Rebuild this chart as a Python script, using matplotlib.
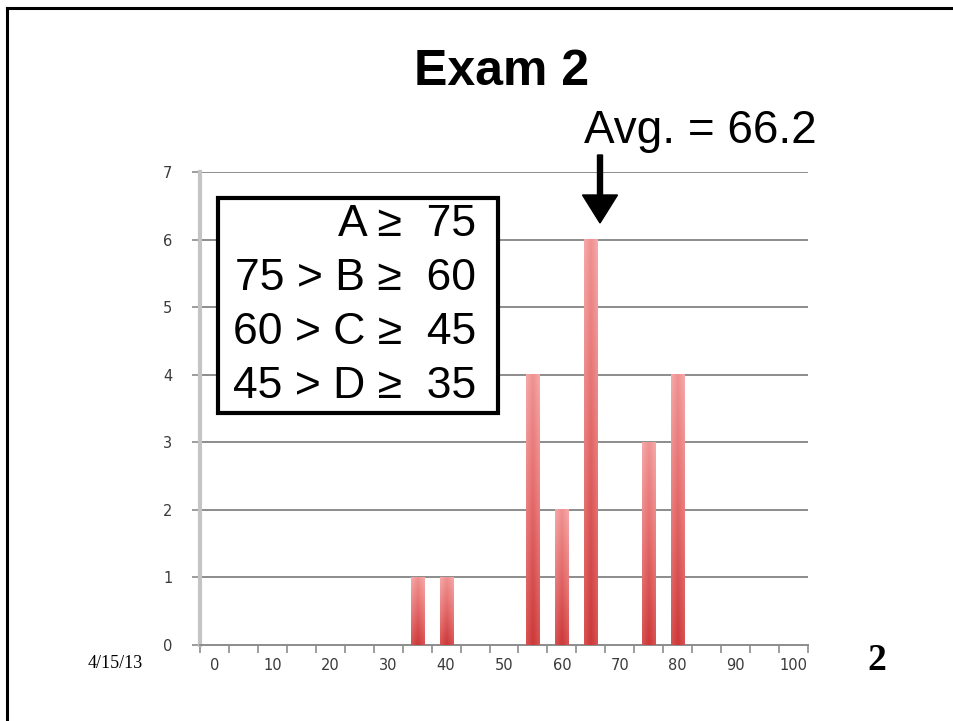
import numpy as np
import matplotlib
matplotlib.use('Agg')
import matplotlib.pyplot as plt
import matplotlib.patches as mpatches
from matplotlib.colors import LinearSegmentedColormap

# score categories (Excel-style category axis, 0..100 step 5)
scores = list(range(0, 101, 5))
counts_by_score = {35: 1, 40: 1, 55: 4, 60: 2, 65: 6, 75: 3, 80: 4}
counts = [counts_by_score.get(s, 0) for s in scores]
tick_labels = [str(s) if s % 10 == 0 else '' for s in scores]
yticks = list(range(0, 8))

title = 'Exam 2'
avg_text = 'Avg. = 66.2'
grade_lines = ['A \u2265  75', '75 > B \u2265  60', '60 > C \u2265  45', '45 > D \u2265  35']
date_text = '4/15/13'
slide_num = '2'

W, H = 954, 721
fig = plt.figure(figsize=(W / 100, H / 100), dpi=100)


def px(x, y):
    # pixel position (from top-left) -> figure fraction
    return x / W, 1 - y / H


# slide border (top and left)
fig.add_artist(plt.Line2D([7 / W, 1], [1 - 8 / H, 1 - 8 / H], color='black', lw=2.2))
fig.add_artist(plt.Line2D([7 / W, 7 / W], [0, 1 - 8 / H], color='black', lw=2.2))

ax = fig.add_axes([200 / W, 1 - 645 / H, 608 / W, (645 - 172) / H])

idx = np.arange(len(scores))
bar_w = 0.45
cmap = LinearSegmentedColormap.from_list('bar', ['#f6a9a9', '#e67272', '#cc3838'])
for i, c in zip(idx, counts):
    if c == 0:
        continue
    yy = np.linspace(0, 1, 60)[:, None]
    xx = np.linspace(-1, 1, 20)[None, :]
    grad = yy * 0.85 + (1 - np.abs(xx)) * 0.25
    ax.imshow(grad, cmap=cmap, vmin=0, vmax=1.1, origin='upper', aspect='auto',
              extent=[i - bar_w / 2, i + bar_w / 2, 0, c], zorder=3, interpolation='bilinear')

ax.set_xlim(-0.5, len(scores) - 0.5)
ax.set_ylim(0, 7)

# gridlines
for y in yticks[1:]:
    ax.axhline(y, color='#8c8c8c', lw=1.4, zorder=1)

for s in ['top', 'right']:
    ax.spines[s].set_visible(False)
ax.spines['left'].set_color('#c4c4c4')
ax.spines['left'].set_linewidth(3)
ax.spines['bottom'].set_color('#8c8c8c')
ax.spines['bottom'].set_linewidth(1.4)

ax.set_yticks(yticks)
ax.set_yticklabels([str(y) for y in yticks], fontsize=10.5, color='#3a3a3a', family='DejaVu Sans')
ax.tick_params(axis='y', length=6, width=1.2, color='#8c8c8c', pad=14)

# x: ticks between categories, labels at category centres
ax.set_xticks(np.arange(-0.5, len(scores)), minor=False)
ax.set_xticklabels([])
ax.set_xticks(idx, minor=True)
ax.set_xticklabels(tick_labels, minor=True, fontsize=10.5, color='#3a3a3a', family='DejaVu Sans')
ax.tick_params(axis='x', which='major', length=6, width=1.2, color='#8c8c8c')
ax.tick_params(axis='x', which='minor', length=0, pad=9)

# title and average
fig.text(*px(502, 72), title, ha='center', va='center', fontsize=36, fontweight='bold',
         family='Liberation Sans')
fig.text(*px(584, 131), avg_text, ha='left', va='center', fontsize=33, family='Liberation Sans')
sx, sy = px(600, 155)
ex, ey = px(600, 223)
fig.add_artist(mpatches.FancyArrow(sx, sy, 0, ey - sy, width=5 / W, head_width=35 / W,
                                   head_length=28 / H, length_includes_head=True,
                                   color='black', transform=fig.transFigure))

# grade box
bx, by = px(218, 413)
fig.add_artist(mpatches.Rectangle((bx, by), 280 / W, 215 / H, transform=fig.transFigure,
                                  facecolor='white', edgecolor='black', lw=3, zorder=5))
for k, line in enumerate(grade_lines):
    fig.text(*px(476, 224 + k * 54.3), line, ha='right', va='center', fontsize=32,
             family='Liberation Sans', zorder=6)

# footer
fig.text(*px(88, 663), date_text, ha='left', va='center', fontsize=13, family='Liberation Serif')
fig.text(*px(877, 661), slide_num, ha='center', va='center', fontsize=27, fontweight='bold',
         family='Liberation Serif')

fig.savefig('out.png', dpi=100)
